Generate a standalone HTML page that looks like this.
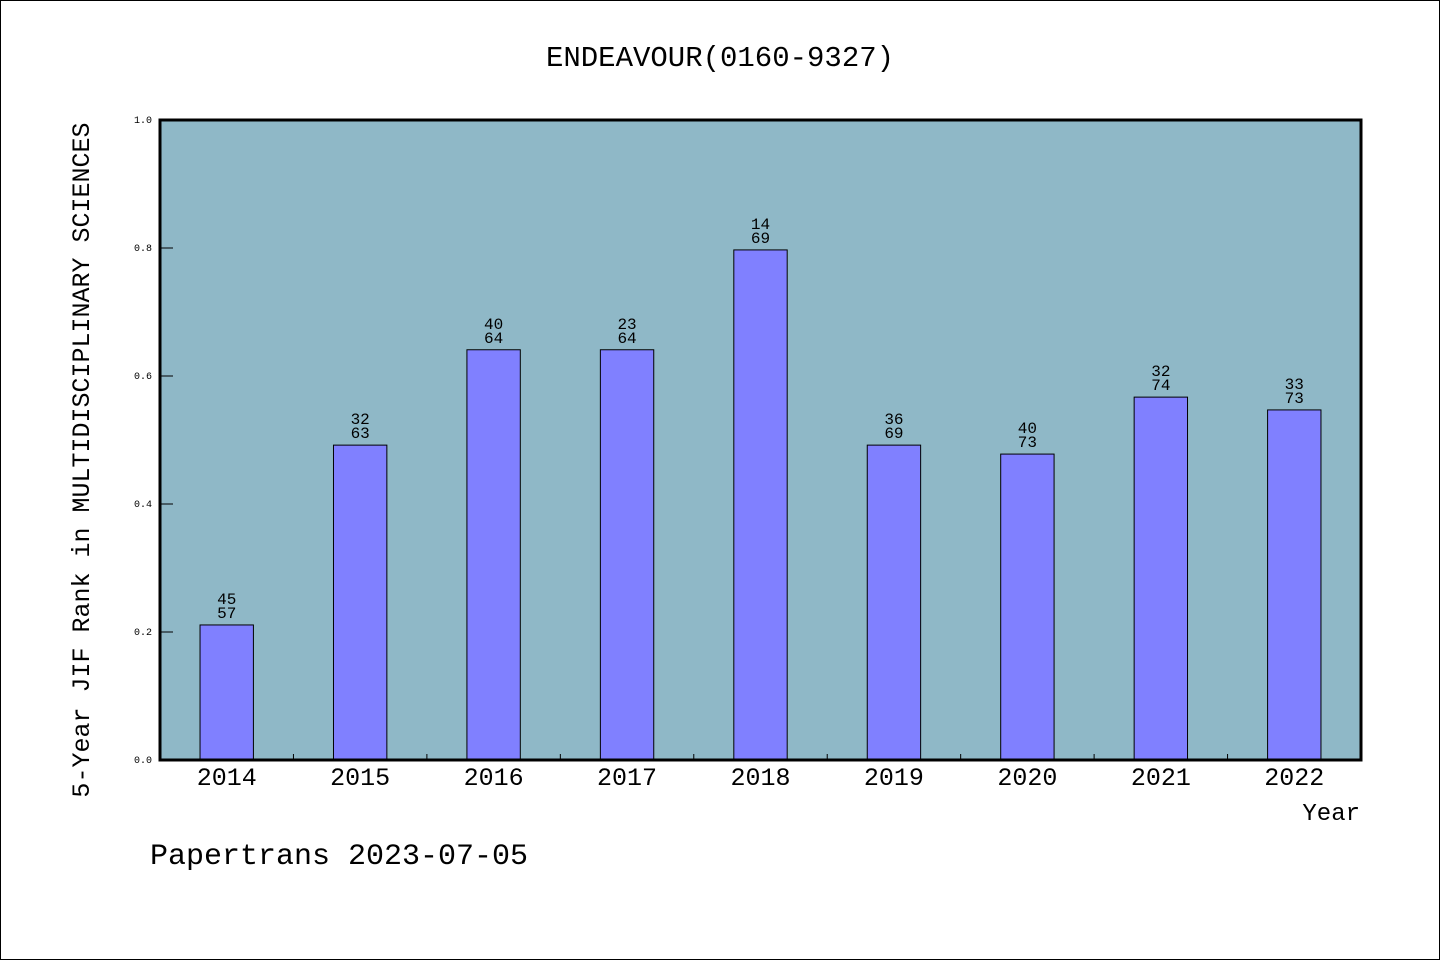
<!DOCTYPE html>
<html><head><meta charset="utf-8"><style>
html,body{margin:0;padding:0;background:#fff}
svg{display:block}
text{font-family:"Liberation Mono","DejaVu Sans Mono",monospace;fill:#000}
</style></head><body>
<svg id="chart" width="1440" height="960" xmlns="http://www.w3.org/2000/svg">
<rect x="0.5" y="0.5" width="1439" height="959" fill="#fff" stroke="#000"/>
<text x="720" y="66" font-size="29" text-anchor="middle">ENDEAVOUR(0160-9327)</text>
<rect x="160" y="120" width="1201" height="640" fill="#8fb8c7"/>
<g id="marks"></g>
<rect x="160" y="120" width="1201" height="640" fill="none" stroke="#000" stroke-width="3"/>
<text transform="translate(89,460) rotate(-90)" font-size="25" text-anchor="middle">5-Year JIF Rank in MULTIDISCIPLINARY SCIENCES</text>
<text x="1360" y="820" font-size="24" text-anchor="end">Year</text>
<text x="150" y="864" font-size="30">Papertrans 2023-07-05</text>
</svg>
<script>
const years=["2014","2015","2016","2017","2018","2019","2020","2021","2022"];
const values=[0.211,0.492,0.641,0.641,0.797,0.492,0.478,0.567,0.547];
const ranks=[45,32,40,23,14,36,40,32,33];
const totals=[57,63,64,64,69,69,73,74,73];
const yTicks=[0,0.2,0.4,0.6,0.8,1.0];
const X0=160,X1=1361,Y0=760,Y1=120;
const band=(X1-X0)/years.length;
const xC=i=>X0+band*(i+0.5);
const y=v=>Y0-(Y0-Y1)*v;
const g=document.getElementById('marks');
const NS="http://www.w3.org/2000/svg";
function mk(t,a){const e=document.createElementNS(NS,t);for(const k in a)e.setAttribute(k,a[k]);g.appendChild(e);return e;}
yTicks.forEach(t=>{
 const l=mk('line',{x1:X0,x2:X0+13,y1:y(t),y2:y(t),stroke:'#000','stroke-width':1});
 
 
 const tx=mk('text',{x:X0-8,y:y(t)+3,'font-size':10,'text-anchor':'end'});
 tx.textContent=t.toFixed(1);
 
 
});
for(let i=1;i<years.length;i++){
 const l=mk('line',{x1:X0+band*i,x2:X0+band*i,y1:Y0,y2:Y0-6,stroke:'#000','stroke-width':1});
 
 
}
const bw=band*0.4;
years.forEach((yr,i)=>{
 const v=values[i];
 const r=mk('rect',{x:xC(i)-bw/2,y:y(v),width:bw,height:Y0-y(v),fill:'#8080ff',stroke:'#000','stroke-width':1});
 
 
 const a=mk('text',{x:xC(i),y:y(v)-21,'font-size':16,'text-anchor':'middle'});
 a.textContent=ranks[i];
 
 
 const b=mk('text',{x:xC(i),y:y(v)-7,'font-size':16,'text-anchor':'middle'});
 b.textContent=totals[i];
 
 
 const xl=mk('text',{x:xC(i),y:785,'font-size':25,'text-anchor':'middle'});
 xl.textContent=yr;
 
 
});
</script>
</body></html>
